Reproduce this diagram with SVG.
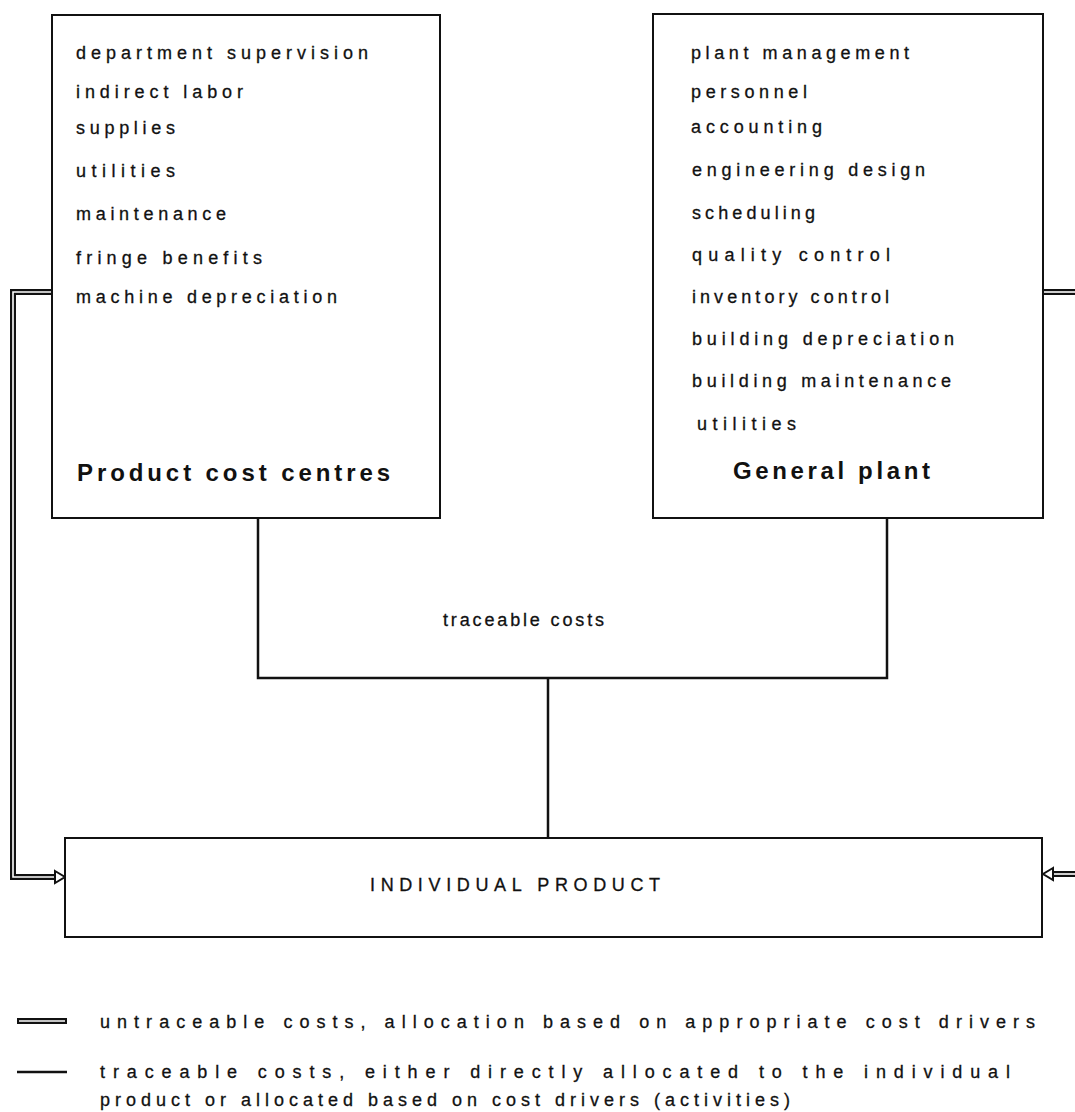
<svg xmlns="http://www.w3.org/2000/svg" width="1075" height="1112" viewBox="0 0 1075 1112">
<style>
.box{fill:#fff;stroke:#111;stroke-width:2}
.t{font-family:"Liberation Sans",Arial,sans-serif;font-size:18px;fill:#111;stroke:#111;stroke-width:0.3}
.b{font-family:"Liberation Sans",Arial,sans-serif;font-size:24px;font-weight:bold;fill:#111}
.ln{fill:none;stroke:#111;stroke-width:2.5}
.dblo{fill:none;stroke:#111;stroke-width:6}
.dbli{fill:none;stroke:#fff;stroke-width:1.6}
</style>
<rect width="1075" height="1112" fill="#fff"/>
<g id="connectors">
<path class="ln" d="M258,518 V678 H887 V518 M548,678 V838"/>
<path class="dblo" d="M52,292 H13 V877 H56"/>
<path class="dbli" d="M52,292 H13 V877 H56"/>
<path d="M55,871 L65,877 L55,883 Z" fill="#fff" stroke="#111" stroke-width="2"/>
<path class="dblo" d="M1043,292 H1075"/>
<path class="dbli" d="M1043,292 H1075"/>
<path class="dblo" d="M1075,874 H1052"/>
<path class="dbli" d="M1075,874 H1052"/>
<path d="M1053,868 L1043,874 L1053,880 Z" fill="#fff" stroke="#111" stroke-width="2"/>
<text class="t" x="443" y="626" textLength="161" lengthAdjust="spacing">traceable costs</text>
</g>
<g id="product-cost-centres">
<rect class="box" x="52" y="15" width="388" height="503"/>
<text class="t" x="76" y="59" textLength="292" lengthAdjust="spacing">department supervision</text>
<text class="t" x="76" y="98" textLength="167" lengthAdjust="spacing">indirect labor</text>
<text class="t" x="76" y="134" textLength="99" lengthAdjust="spacing">supplies</text>
<text class="t" x="76" y="177" textLength="99" lengthAdjust="spacing">utilities</text>
<text class="t" x="76" y="220" textLength="150" lengthAdjust="spacing">maintenance</text>
<text class="t" x="76" y="264" textLength="186" lengthAdjust="spacing">fringe benefits</text>
<text class="t" x="76" y="303" textLength="261" lengthAdjust="spacing">machine depreciation</text>
<text class="b" x="77" y="481" textLength="313" lengthAdjust="spacing">Product cost centres</text>
</g>
<g id="general-plant">
<rect class="box" x="653" y="14" width="390" height="504"/>
<text class="t" x="691" y="59" textLength="218" lengthAdjust="spacing">plant management</text>
<text class="t" x="691" y="98" textLength="116" lengthAdjust="spacing">personnel</text>
<text class="t" x="691" y="133" textLength="131" lengthAdjust="spacing">accounting</text>
<text class="t" x="692" y="176" textLength="233" lengthAdjust="spacing">engineering design</text>
<text class="t" x="692" y="219" textLength="123" lengthAdjust="spacing">scheduling</text>
<text class="t" x="692" y="261" textLength="198" lengthAdjust="spacing">quality control</text>
<text class="t" x="692" y="303" textLength="197" lengthAdjust="spacing">inventory control</text>
<text class="t" x="692" y="345" textLength="262" lengthAdjust="spacing">building depreciation</text>
<text class="t" x="692" y="387" textLength="259" lengthAdjust="spacing">building maintenance</text>
<text class="t" x="697" y="430" textLength="99" lengthAdjust="spacing">utilities</text>
<text class="b" x="733" y="479" textLength="197" lengthAdjust="spacing">General plant</text>
</g>
<g id="individual-product">
<rect class="box" x="65" y="838" width="977" height="99"/>
<text class="t" x="370" y="891" textLength="290" lengthAdjust="spacing">INDIVIDUAL PRODUCT</text>
</g>
<g id="legend">
<path class="dblo" d="M17,1021 H67"/>
<path class="dbli" d="M19,1021 H65"/>
<path d="M17,1072 H67" stroke="#111" stroke-width="2.5"/>
<text class="t" x="100" y="1028" textLength="935" lengthAdjust="spacing">untraceable costs, allocation based on appropriate cost drivers</text>
<text class="t" x="100" y="1078" textLength="910" lengthAdjust="spacing">traceable costs, either directly allocated to the individual</text>
<text class="t" x="100" y="1106" textLength="690" lengthAdjust="spacing">product or allocated based on cost drivers (activities)</text>
</g>
</svg>
